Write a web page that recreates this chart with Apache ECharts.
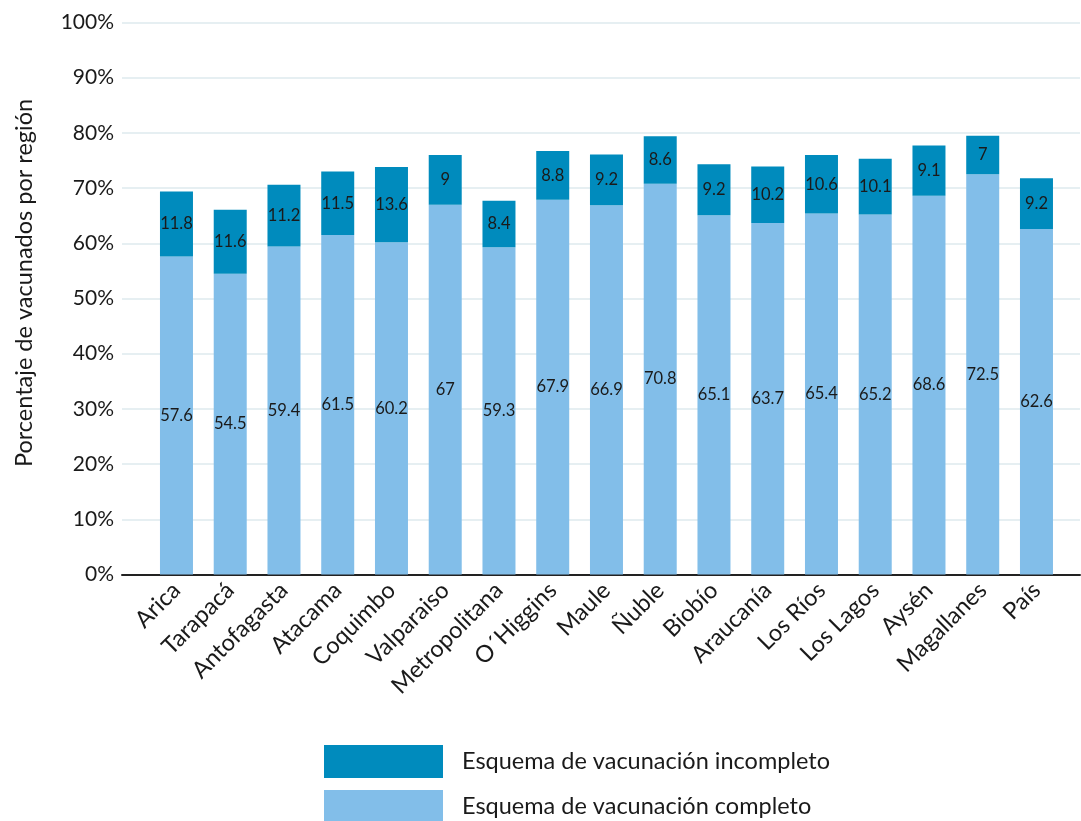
<!DOCTYPE html>
<html>
<head>
<meta charset="utf-8">
<script src="https://cdn.jsdelivr.net/npm/echarts@6/dist/echarts.min.js"></script>
<style>
  html, body { margin: 0; padding: 0; background: #fff; }
  #chart { width: 1081px; height: 821px; }
</style>
</head>
<body>
<div id="chart"></div>
<script>
// Regions of Chile plus the national total
const regiones = ['Arica', 'Tarapacá', 'Antofagasta', 'Atacama', 'Coquimbo', 'Valparaiso',
  'Metropolitana', 'O´Higgins', 'Maule', 'Ñuble', 'Biobío', 'Araucanía', 'Los Ríos',
  'Los Lagos', 'Aysén', 'Magallanes', 'País'];

// Percentage of population with a complete vaccination schedule
const completo = [57.6, 54.5, 59.4, 61.5, 60.2, 67, 59.3, 67.9, 66.9, 70.8, 65.1, 63.7, 65.4, 65.2, 68.6, 72.5, 62.6];

// Percentage with an incomplete schedule (stacked on top)
const incompleto = [11.8, 11.6, 11.2, 11.5, 13.6, 9, 8.4, 8.8, 9.2, 8.6, 9.2, 10.2, 10.6, 10.1, 9.1, 7, 9.2];

const yTicks = { min: 0, max: 100, interval: 10 };

const FONT = 'Lato, "Open Sans", sans-serif';
const TEXT = '#1a1a1a';

const chart = echarts.init(document.getElementById('chart'), null, { renderer: 'canvas' });

const valueLabel = {
  show: true,
  position: 'inside',
  color: TEXT,
  fontSize: 16.5,
  fontFamily: FONT
};

chart.setOption({
  animation: false,
  textStyle: { fontFamily: FONT },
  grid: [
    // bars
    { left: 149.6, width: 913.75, top: 22.5, height: 552 },
    // frame: gridlines, axis line and percentage ticks
    { left: 122, width: 958, top: 22.5, height: 552 }
  ],
  graphic: [
    {
      type: 'text',
      x: 24,
      y: 283,
      rotation: Math.PI / 2,
      style: {
        text: 'Porcentaje de vacunados por región',
        fontSize: 23.5,
        fontFamily: FONT,
        fill: TEXT,
        align: 'center',
        verticalAlign: 'middle'
      }
    }
  ],
  legend: {
    orient: 'vertical',
    left: 324,
    top: 745,
    width: 600,
    height: 120,
    padding: 0,
    itemWidth: 119,
    itemHeight: 33,
    itemGap: 12,
    icon: 'rect',
    data: ['Esquema de vacunación incompleto', 'Esquema de vacunación completo'],
    textStyle: { fontSize: 23.5, color: TEXT, fontFamily: FONT, padding: [0, 0, 0, 14] }
  },
  xAxis: [
    {
      type: 'category',
      gridIndex: 0,
      data: regiones,
      axisLine: { show: false },
      axisTick: { show: false },
      axisLabel: {
        interval: 0,
        rotate: 45,
        margin: 12,
        fontSize: 23.5,
        color: TEXT,
        fontFamily: FONT
      }
    },
    {
      type: 'value',
      gridIndex: 1,
      min: 0,
      max: 1,
      axisLine: { show: true, onZero: false, lineStyle: { color: '#222', width: 2 } },
      axisTick: { show: false },
      axisLabel: { show: false },
      splitLine: { show: false }
    }
  ],
  yAxis: [
    {
      type: 'value',
      gridIndex: 0,
      min: yTicks.min,
      max: yTicks.max,
      interval: yTicks.interval,
      axisLine: { show: false },
      axisTick: { show: false },
      axisLabel: { show: false },
      splitLine: { show: false }
    },
    {
      type: 'value',
      gridIndex: 1,
      min: yTicks.min,
      max: yTicks.max,
      interval: yTicks.interval,
      axisLine: { show: false },
      axisTick: { show: false },
      axisLabel: {
        formatter: '{value}%',
        fontSize: 21,
        color: TEXT,
        margin: 8,
        fontFamily: FONT
      },
      splitLine: { show: true, lineStyle: { color: '#E6EFF2', width: 2 } }
    }
  ],
  series: [
    {
      name: 'Esquema de vacunación completo',
      type: 'bar',
      stack: 'total',
      xAxisIndex: 0,
      yAxisIndex: 0,
      barWidth: 33,
      data: completo,
      itemStyle: { color: '#82BEE9' },
      label: valueLabel
    },
    {
      name: 'Esquema de vacunación incompleto',
      type: 'bar',
      stack: 'total',
      xAxisIndex: 0,
      yAxisIndex: 0,
      barWidth: 33,
      data: incompleto,
      itemStyle: { color: '#008BBD' },
      label: valueLabel
    }
  ]
});
</script>
</body>
</html>
